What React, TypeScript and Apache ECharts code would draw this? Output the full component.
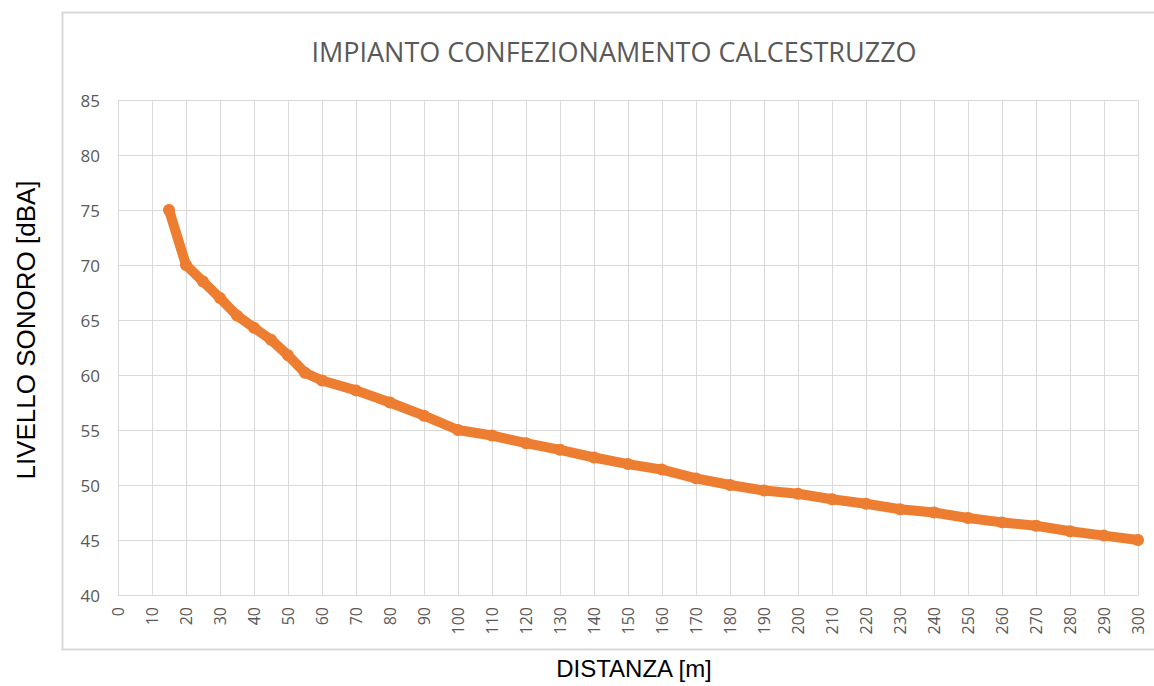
import React, { useEffect, useRef } from "react";
import * as echarts from "echarts";

const titleText = "IMPIANTO CONFEZIONAMENTO CALCESTRUZZO";
const xAxisTitle = "DISTANZA [m]";
const yAxisTitle = "LIVELLO SONORO [dBA]";

const distances = [15, 20, 25, 30, 35, 40, 45, 50, 55, 60, 70, 80, 90, 100, 110, 120, 130, 140, 150, 160, 170, 180, 190, 200, 210, 220, 230, 240, 250, 260, 270, 280, 290, 300];
const levels = [75, 70, 68.5, 67.0, 65.4, 64.3, 63.2, 61.8, 60.2, 59.5, 58.6, 57.5, 56.3, 55.0, 54.5, 53.8, 53.2, 52.5, 51.9, 51.4, 50.6, 50.0, 49.5, 49.2, 48.7, 48.3, 47.8, 47.5, 47.0, 46.6, 46.3, 45.8, 45.4, 45.0];

const xMin = 0, xMax = 300, xStep = 10;
const yMin = 40, yMax = 85, yStep = 5;

export default function App() {
  const ref = useRef<HTMLDivElement>(null);
  useEffect(() => {
    if (!ref.current) return;
    const chart = echarts.init(ref.current, null, { renderer: "svg" });
    const data = distances.map((d, i) => [d, levels[i]]);
    chart.setOption({
      animation: false,
      backgroundColor: "#ffffff",
      title: {
        text: titleText,
        left: 609,
        textAlign: "center",
        top: 33,
        textStyle: { fontFamily: "Open Sans", fontSize: 27, fontWeight: "normal", color: "#595959" },
      },
      grid: { left: 118, right: 16, top: 100, bottom: 91 },
      xAxis: {
        type: "value",
        min: xMin,
        max: xMax,
        interval: xStep,
        axisLine: { show: true, lineStyle: { color: "#d9d9d9", width: 1 } },
        axisTick: { show: false },
        splitLine: { show: true, lineStyle: { color: "#d9d9d9", width: 1 } },
        axisLabel: { rotate: 90, color: "#595959", fontSize: 16, fontFamily: "Open Sans", margin: 12 },
      },
      yAxis: {
        type: "value",
        min: yMin,
        max: yMax,
        interval: yStep,
        axisLine: { show: false },
        axisTick: { show: false },
        splitLine: { show: true, lineStyle: { color: "#d9d9d9", width: 1 } },
        axisLabel: { color: "#595959", fontSize: 17, fontFamily: "Open Sans", margin: 18 },
      },
      graphic: [
        { type: "rect", shape: { x: 62.5, y: 12.5, width: 1100, height: 637 }, style: { fill: "none", stroke: "#d9d9d9", lineWidth: 2 }, z: -1 },
        { type: "text", x: 634, y: 668, style: { text: xAxisTitle, fontFamily: "Liberation Sans", fontSize: 24, fill: "#000", align: "center", verticalAlign: "middle" } },
        { type: "text", x: 26, y: 330, rotation: Math.PI / 2, style: { text: yAxisTitle, fontFamily: "Liberation Sans", fontSize: 26, fill: "#000", align: "center", verticalAlign: "middle" } },
      ],
      series: [
        {
          type: "line",
          data,
          symbol: "circle",
          symbolSize: 12,
          showSymbol: true,
          itemStyle: { color: "#ED7D31" },
          lineStyle: { color: "#ED7D31", width: 10 },
        },
      ],
    });
    return () => chart.dispose();
  }, []);
  return <div ref={ref} style={{ position: "fixed", left: 0, top: 0, width: 1154, height: 686 }} />;
}
